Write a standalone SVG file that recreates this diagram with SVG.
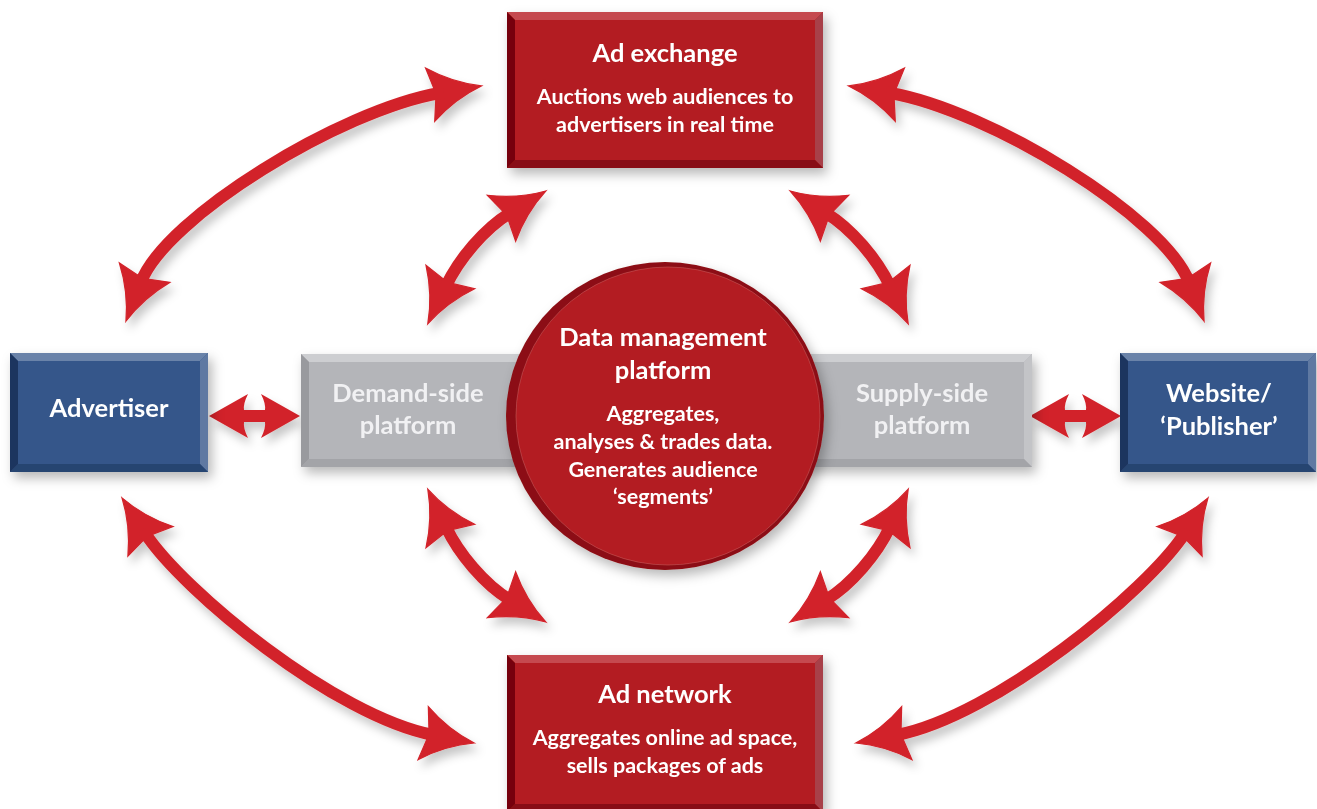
<svg xmlns="http://www.w3.org/2000/svg" width="1317" height="809" viewBox="0 0 1317 809">
<defs>
<style>
.t{font-family:Lato,"Open Sans","Liberation Sans",sans-serif;font-weight:bold;fill:#ffffff;text-anchor:middle}
.h{font-size:25.5px}
.s{font-size:21.5px}
.g{fill:#f1f1f3}
.red{fill:#b31b20}.redT{fill:#c54a4f}.redR{fill:#a8414a}.redB{fill:#880e12}.redL{fill:#760609}
.blu{fill:#34568a}.bluT{fill:#6b83a9}.bluR{fill:#5f79a2}.bluB{fill:#284571}.bluL{fill:#1d365f}
.gry{fill:#b4b5b9}.gryT{fill:#cdced1}.gryR{fill:#c3c4c7}.gryB{fill:#a3a4a8}.gryL{fill:#999a9e}
.arc{fill:none;stroke:#d2232a;stroke-width:12;marker-start:url(#ah);marker-end:url(#ah)}
.arr{fill:#d2232a}
</style>
<marker id="ah" markerUnits="userSpaceOnUse" orient="auto-start-reverse" overflow="visible" markerWidth="1" markerHeight="1" refX="0" refY="0">
<path d="M42,0 Q14,-8 -10,-27 L-4,0 L-10,27 Q14,8 42,0 Z" fill="#d2232a" stroke="#d2232a" stroke-width="1.2" stroke-linejoin="miter"/>
<rect x="-6" y="-6" width="10" height="12" fill="#d2232a"/>
</marker>
<filter id="sh" x="-20%" y="-20%" width="140%" height="150%">
<feDropShadow dx="4" dy="6" stdDeviation="6" flood-color="#000" flood-opacity="0.28"/>
</filter>
<filter id="sha" x="-20%" y="-20%" width="140%" height="150%">
<feDropShadow dx="4" dy="7" stdDeviation="5" flood-color="#000" flood-opacity="0.22"/>
</filter>
</defs>
<rect width="1317" height="809" fill="#ffffff"/>

<g id="connectors" filter="url(#sha)">
<path id="arc-adv-adx" class="arc" d="M141,282 C166,217 341,110 440,93"/>
<path id="arc-adx-web" class="arc" d="M141,282 C166,217 341,110 440,93" transform="matrix(-1 0 0 1 1330 0)"/>
<path id="arc-adv-adn" class="arc" d="M145,533 C183,591 335,716 433,735"/>
<path id="arc-adn-web" class="arc" d="M145,533 C183,591 335,716 433,735" transform="matrix(-1 0 0 1 1330 0)"/>
<path id="arc-dsp-adx" class="arc" d="M446,286 C459,259 484,229 510,213"/>
<path id="arc-adx-ssp" class="arc" d="M446,286 C459,259 484,229 510,213" transform="matrix(-1 0 0 1 1336 0)"/>
<path id="arc-dsp-adn" class="arc" d="M446,286 C459,259 484,229 510,213" transform="matrix(1 0 0 -1 0 813)"/>
<path id="arc-ssp-adn" class="arc" d="M446,286 C459,259 484,229 510,213" transform="matrix(-1 0 0 -1 1336 813)"/>
<path id="arr-adv-dsp" class="arr" d="M209,416 L248,394 Q243,404 244,410 L265,410 Q266,404 261,394 L300,416 L261,438 Q266,428 265,422 L244,422 Q243,428 248,438 Z"/>
<path id="arr-ssp-web" class="arr" d="M209,416 L248,394 Q243,404 244,410 L265,410 Q266,404 261,394 L300,416 L261,438 Q266,428 265,422 L244,422 Q243,428 248,438 Z" transform="translate(821 0)"/>
</g>

<g id="ad-exchange" filter="url(#sh)">
<rect class="red" x="507" y="12" width="316" height="156"/>
<polygon class="redT" points="507,12 823,12 815,20 515,20"/>
<polygon class="redR" points="823,12 823,168 815,160 815,20"/>
<polygon class="redB" points="507,168 823,168 815,160 515,160"/>
<polygon class="redL" points="507,12 515,20 515,160 507,168"/>
<text class="t h" x="665" y="62">Ad exchange</text>
<text class="t s" x="665" y="104">Auctions web audiences to</text>
<text class="t s" x="665" y="132">advertisers in real time</text>
</g>

<g id="ad-network" filter="url(#sh)">
<rect class="red" x="507" y="655" width="316" height="157"/>
<polygon class="redT" points="507,655 823,655 815,663 515,663"/>
<polygon class="redR" points="823,655 823,812 815,804 815,663"/>
<polygon class="redB" points="507,812 823,812 815,804 515,804"/>
<polygon class="redL" points="507,655 515,663 515,804 507,812"/>
<text class="t h" x="665" y="703">Ad network</text>
<text class="t s" x="665" y="745">Aggregates online ad space,</text>
<text class="t s" x="665" y="773">sells packages of ads</text>
</g>

<g id="advertiser" filter="url(#sh)">
<rect class="blu" x="10" y="353" width="198" height="119"/>
<polygon class="bluT" points="10,353 208,353 200,361 18,361"/>
<polygon class="bluR" points="208,353 208,472 200,464 200,361"/>
<polygon class="bluB" points="10,472 208,472 200,464 18,464"/>
<polygon class="bluL" points="10,353 18,361 18,464 10,472"/>
<text class="t h" x="109" y="417">Advertiser</text>
</g>

<g id="website" filter="url(#sh)">
<rect class="blu" x="1120" y="353" width="196" height="119"/>
<polygon class="bluT" points="1120,353 1316,353 1308,361 1128,361"/>
<polygon class="bluR" points="1316,353 1316,472 1308,464 1308,361"/>
<polygon class="bluB" points="1120,472 1316,472 1308,464 1128,464"/>
<polygon class="bluL" points="1120,353 1128,361 1128,464 1120,472"/>
<text class="t h" x="1219" y="402">Website/</text>
<text class="t h" x="1219" y="435">‘Publisher’</text>
</g>

<g id="demand-side-platform" filter="url(#sh)">
<rect class="gry" x="301" y="354" width="300" height="113"/>
<polygon class="gryT" points="301,354 601,354 601,362 309,362"/>
<polygon class="gryB" points="301,467 601,467 601,459 309,459"/>
<polygon class="gryL" points="301,354 309,362 309,459 301,467"/>
<text class="t h g" x="408" y="402">Demand-side</text>
<text class="t h g" x="408" y="434">platform</text>
</g>

<g id="supply-side-platform" filter="url(#sh)">
<rect class="gry" x="730" y="354" width="302" height="113"/>
<polygon class="gryT" points="730,354 1032,354 1024,362 730,362"/>
<polygon class="gryR" points="1032,354 1032,467 1024,459 1024,362"/>
<polygon class="gryB" points="730,467 1032,467 1024,459 730,459"/>
<text class="t h g" x="922" y="402">Supply-side</text>
<text class="t h g" x="922" y="434">platform</text>
</g>

<g id="data-management-platform" filter="url(#sh)">
<ellipse cx="665" cy="416" rx="159" ry="154" fill="#8c0e13"/>
<ellipse cx="668" cy="416" rx="152" ry="149" fill="#b31b20" stroke="#cf6a6e" stroke-width="0.8" stroke-opacity="0.6"/>
<text class="t h" x="663" y="346">Data management</text>
<text class="t h" x="663" y="379">platform</text>
<text class="t s" x="663" y="421">Aggregates,</text>
<text class="t s" x="663" y="449">analyses &amp; trades data.</text>
<text class="t s" x="663" y="477">Generates audience</text>
<text class="t s" x="663" y="504">‘segments’</text>
</g>
</svg>
